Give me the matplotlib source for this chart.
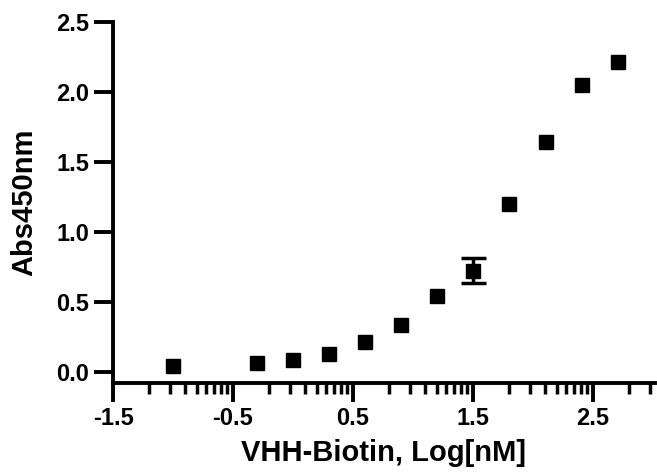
import numpy as np
import matplotlib
matplotlib.use("Agg")
import matplotlib.pyplot as plt
from matplotlib.ticker import FixedLocator, FormatStrFormatter

# Data: log10 concentration (nM) and absorbance
conc_nM = [0.1, 0.5, 1, 2, 4, 8, 16, 32, 64, 128, 256, 512]
abs450 = [0.038, 0.062, 0.086, 0.128, 0.21, 0.331, 0.545, 0.724, 1.198, 1.645, 2.05, 2.214]
abs_err = [0, 0, 0, 0, 0, 0, 0, 0.089, 0, 0, 0, 0]
x_major = [-1.5, -0.5, 0.5, 1.5, 2.5]
y_major = [0.0, 0.5, 1.0, 1.5, 2.0, 2.5]

logx = np.log10(conc_nM)
abs450 = np.array(abs450)
abs_err = np.array(abs_err)

plt.rcParams['font.family'] = ['Liberation Sans', 'DejaVu Sans']
plt.rcParams['font.weight'] = 'bold'

fig = plt.figure(figsize=(6.57, 4.74), dpi=100)
ax = fig.add_axes([113/657, 1-383/474, (655-113)/657, (383-22)/474])

has_err = abs_err > 0
ax.errorbar(logx[has_err], abs450[has_err], yerr=abs_err[has_err], fmt='none',
            ecolor='black', elinewidth=2.5, capsize=9, capthick=2.5, zorder=2)
ax.plot(logx, abs450, 's', color='black', markersize=10, zorder=3)

ax.set_xlim(-1.5, 3.02)
ax.set_ylim(-0.08, 2.5)

for s in ['top', 'right']:
    ax.spines[s].set_visible(False)
for s in ['left', 'bottom']:
    ax.spines[s].set_linewidth(2.8)

ax.xaxis.set_major_locator(FixedLocator(x_major))
minor = []
for base in x_major:
    for k in range(2, 10):
        v = base + np.log10(k)
        if v <= 3.02:
            minor.append(v)
ax.xaxis.set_minor_locator(FixedLocator(minor))
ax.yaxis.set_major_locator(FixedLocator(y_major))
ax.yaxis.set_major_formatter(FormatStrFormatter('%.1f'))
ax.xaxis.set_major_formatter(FormatStrFormatter('%.1f'))

ax.tick_params(axis='both', which='major', length=14, width=2.8, labelsize=17, pad=3)
ax.tick_params(axis='x', which='minor', length=8, width=2.5)
for lab in ax.get_xticklabels() + ax.get_yticklabels():
    lab.set_fontweight('bold')

ax.set_xlabel('VHH-Biotin, Log[nM]', fontsize=21, fontweight='bold', labelpad=7)
ax.set_ylabel('Abs450nm', fontsize=21, fontweight='bold', labelpad=13)

fig.savefig('out.png', dpi=100)
